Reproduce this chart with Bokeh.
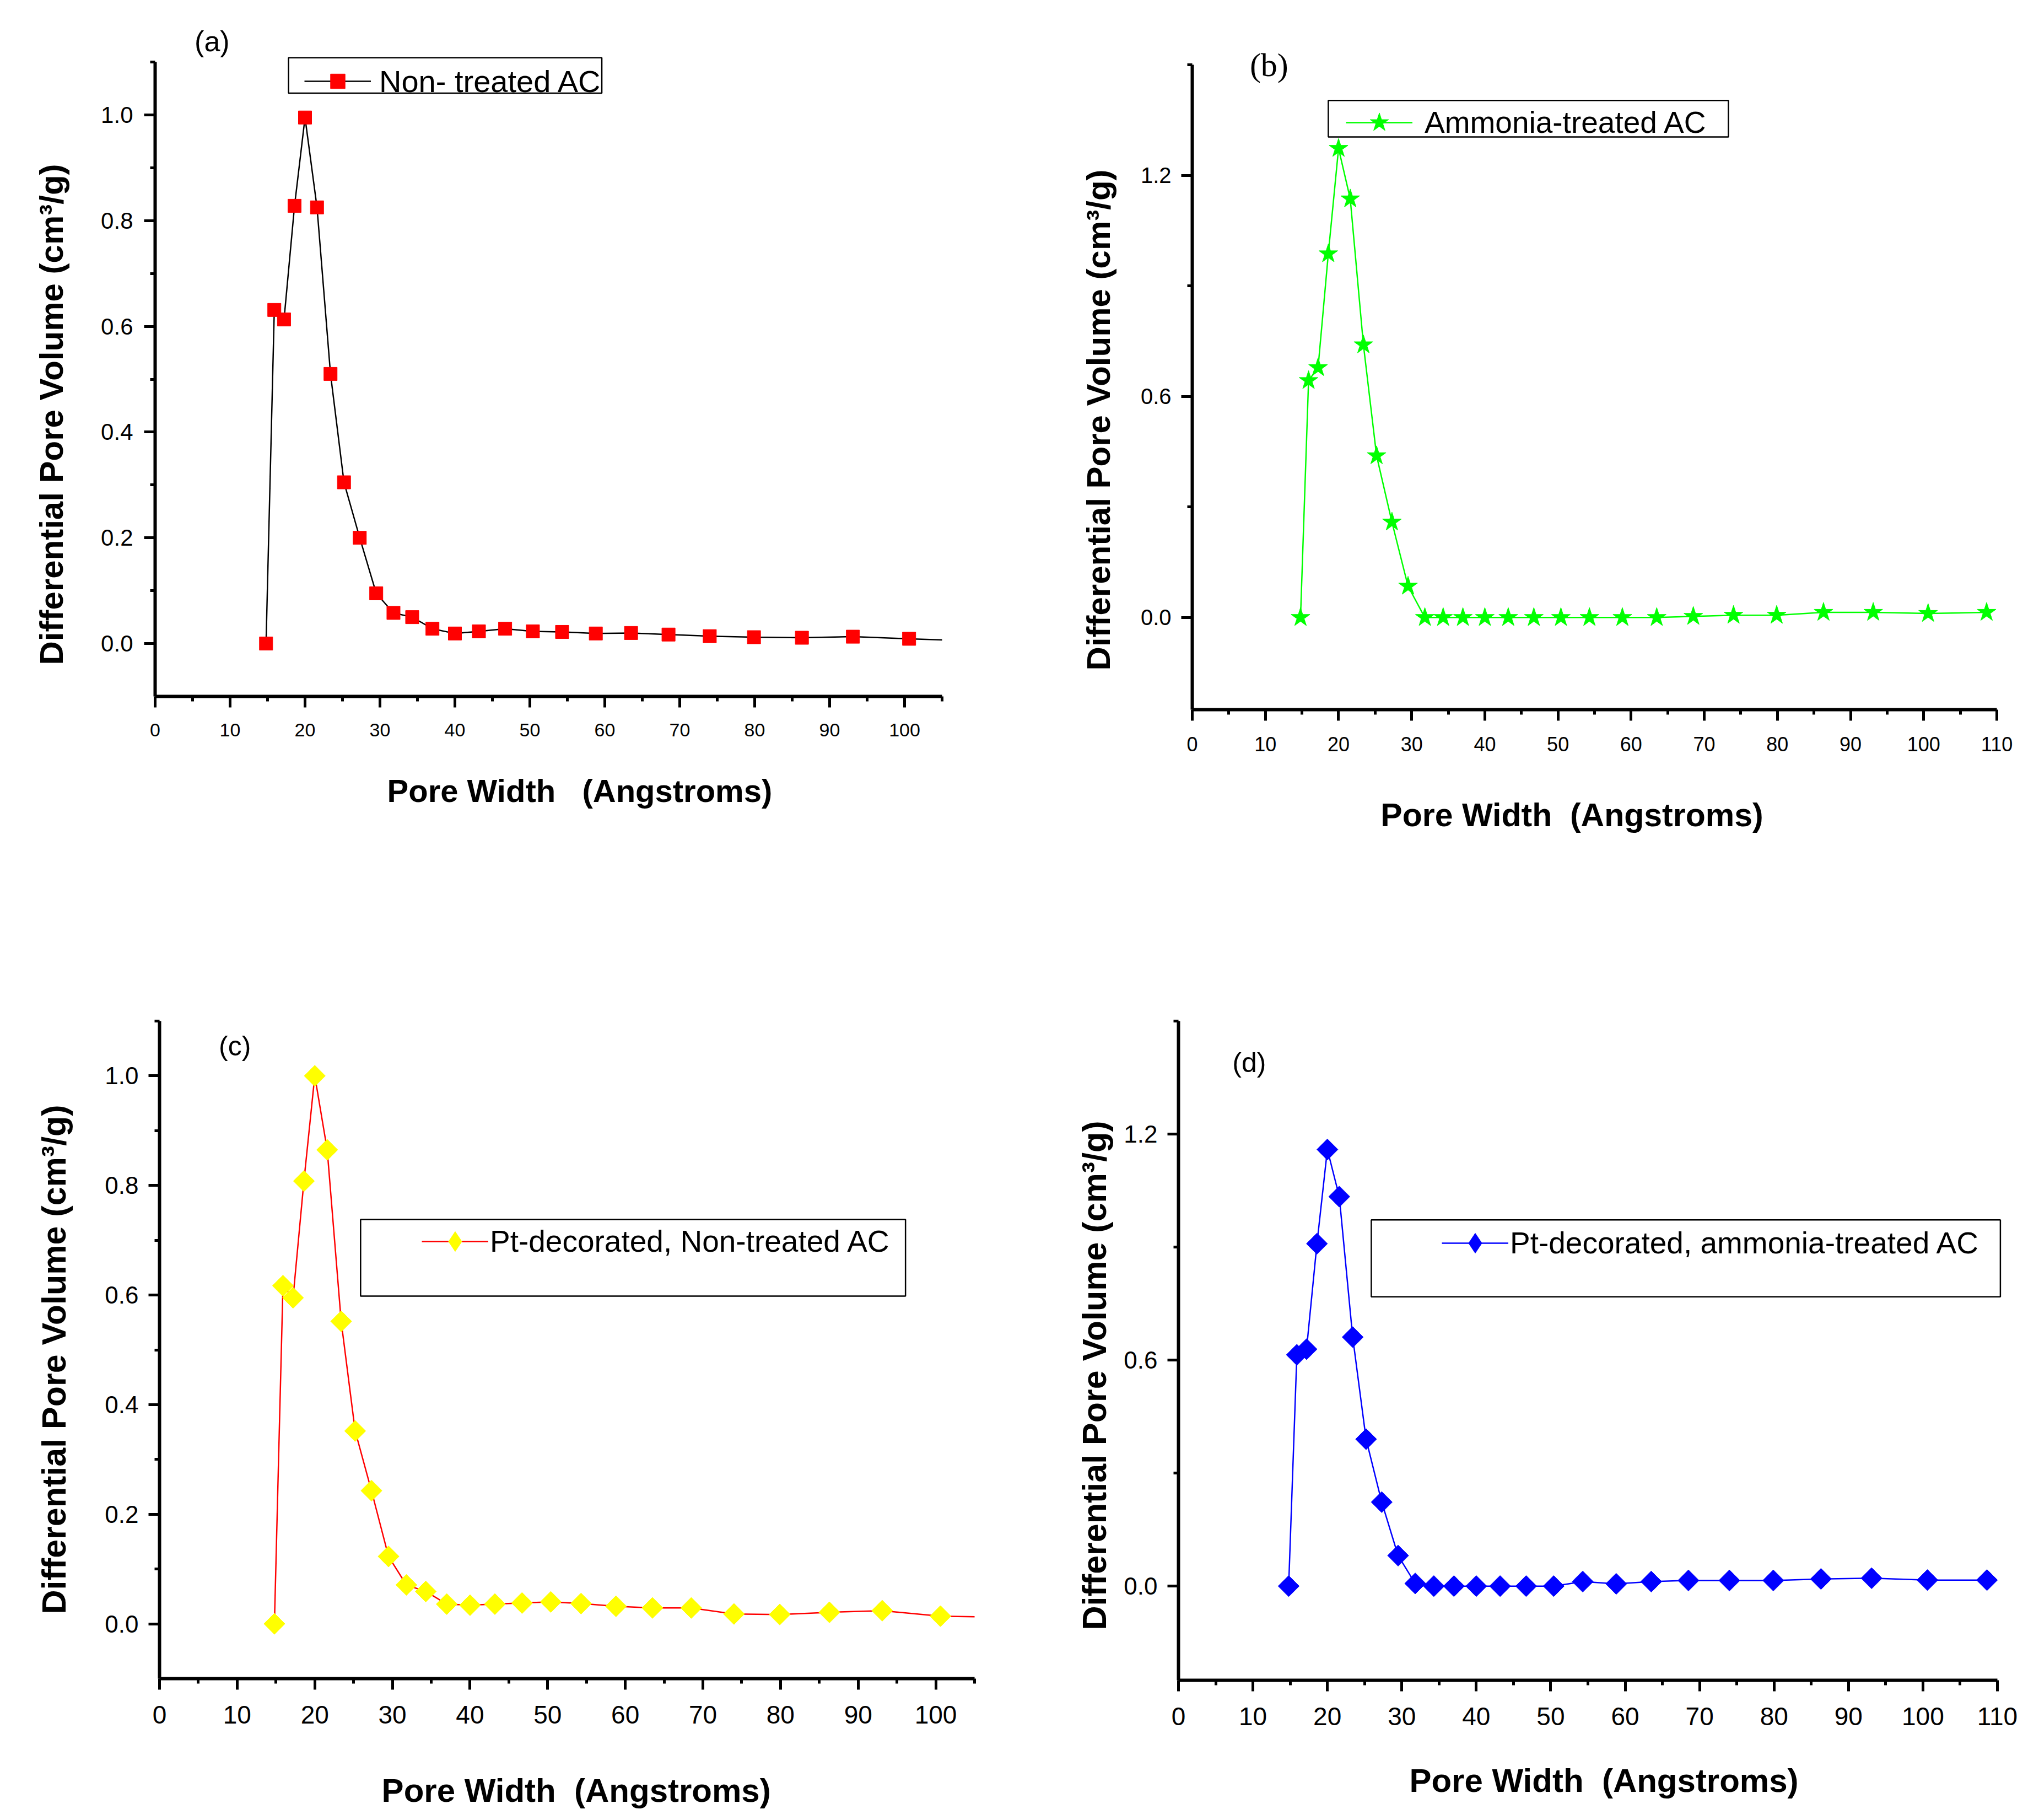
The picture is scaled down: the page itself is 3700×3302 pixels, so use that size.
import numpy as np
from bokeh.plotting import figure
from bokeh.layouts import row, column
from bokeh.models import (Range1d, FixedTicker, PrintfTickFormatter, Legend, LegendItem,
                          BoxAnnotation, Label, Title)
from bokeh.embed import file_html
from bokeh.resources import INLINE

# pore widths (Angstroms), shared by the four samples
pore_width = [14.8, 15.9, 17.2, 18.6, 20.0, 21.6, 23.4, 25.2, 27.3, 29.5, 31.8, 34.3, 37.0,
              40.0, 43.2, 46.7, 50.4, 54.3, 58.8, 63.5, 68.5, 74.0, 79.9, 86.3, 93.1, 100.6, 108.6]

# differential pore volume (cm3/g)
non_treated = [0.000, 0.631, 0.613, 0.828, 0.995, 0.825, 0.510, 0.305, 0.200, 0.095, 0.058, 0.050,
               0.028, 0.019, 0.023, 0.028, 0.023, 0.022, 0.019, 0.020, 0.017, 0.014, 0.012, 0.011,
               0.013, 0.009, 0.005]
ammonia_treated = [0.000, 0.643, 0.678, 0.987, 1.273, 1.136, 0.740, 0.439, 0.259, 0.085, 0.000, 0.000,
                   0.000, 0.000, 0.000, 0.000, 0.000, 0.000, 0.000, 0.000, 0.003, 0.006, 0.006, 0.014,
                   0.014, 0.011, 0.014]
pt_non_treated = [0.000, 0.617, 0.595, 0.808, 1.000, 0.865, 0.552, 0.352, 0.243, 0.123, 0.071, 0.059,
                  0.036, 0.034, 0.036, 0.038, 0.040, 0.037, 0.032, 0.029, 0.029, 0.018, 0.017, 0.021,
                  0.024, 0.014, 0.012]
pt_ammonia_treated = [0.000, 0.614, 0.629, 0.909, 1.159, 1.034, 0.661, 0.390, 0.223, 0.081, 0.007, 0.000,
                      0.000, 0.000, 0.000, 0.000, 0.000, 0.012, 0.006, 0.012, 0.015, 0.015, 0.015, 0.019,
                      0.021, 0.016, 0.016]

legend_labels = ["Non- treated AC", "Ammonia-treated AC",
                 "Pt-decorated, Non-treated AC", "Pt-decorated, ammonia-treated AC"]
panel_letters = ["(a)", "(b)", "(c)", "(d)"]
NB = "\u00a0"
# no-break spaces keep the wide gaps and shift the titles a little off centre, as in the original
x_titles = [NB * 7 + "Pore Width" + NB + " " + NB + "(Angstroms)",
            "Pore Width" + NB + " (Angstroms)" + NB * 5,
            NB * 2 + "Pore Width" + NB + " (Angstroms)",
            NB * 3 + "Pore Width" + NB + " (Angstroms)"]
y_title = "Differential Pore Volume (cm\u00b3/g)"

FONT = "Liberation Sans"
FIG_W, FIG_H = 1842, 1642

# geometry in page pixels: figure origin, axis ends, frame ends
panels = [
    dict(y=non_treated, origin=(8, 8),
         xr=(0, 105), ax_x=(289, 1717), fr_x=(289, 1717),
         yr=(-0.1, 1.1), ax_y=(1271, 120), fr_y=(1271, 50),
         ymajor=[0.0, 0.2, 0.4, 0.6, 0.8, 1.0], yminor=[0.1, 0.3, 0.5, 0.7, 0.9, 1.1],
         line="#000000", fill="#ff0000", marker="square", size=24, angle=0,
         leg_marker=None, gh=66, lfont=56,
         yfont=42, xfont=34, ystd=20, xfont_t=58, yfont_t=60,
         ytitle_start=1214, ytitle_gap=108, xtitle_gap=63,
         leg=(271, 153), lstand=15, box=(17.8, 59.6, 1.041, 1.108),
         letter=(7.6, 1.139, 52, FONT)),
    dict(y=ammonia_treated, origin=(1850, 8),
         xr=(0, 110), ax_x=(2171, 3631), fr_x=(2171, 3631),
         yr=(-0.25, 1.5), ax_y=(1295, 125), fr_y=(1295, 50),
         ymajor=[0.0, 0.6, 1.2], yminor=[0.3, 0.9, 1.5],
         line="#00ff00", fill="#00ff00", marker="star", size=36, angle=0,
         leg_marker=None, gh=88, lfont=55,
         yfont=40, xfont=36, ystd=18, xfont_t=59, yfont_t=60,
         ytitle_start=1224, ytitle_gap=80, xtitle_gap=80,
         leg=(279, 230), lstand=22, box=(18.6, 73.3, 1.304, 1.403),
         letter=(10.5, 1.50, 60, "Liberation Serif")),
    dict(y=pt_non_treated, origin=(8, 1650),
         xr=(0, 105), ax_x=(297, 1776), fr_x=(297, 1776),
         yr=(-0.1, 1.1), ax_y=(3056, 1860), fr_y=(3056, 1860),
         ymajor=[0.0, 0.2, 0.4, 0.6, 0.8, 1.0], yminor=[0.1, 0.3, 0.5, 0.7, 0.9, 1.1],
         line="#ff0000", fill="#ffff00", marker="square", size=27, angle=np.pi / 4,
         leg_marker="diamond", gh=90, lfont=55,
         yfont=44, xfont=46, ystd=18, xfont_t=60, yfont_t=61,
         ytitle_start=2939, ytitle_gap=112, xtitle_gap=85,
         leg=(476, 2263), lstand=3, box=(25.9, 96.1, 0.598, 0.738),
         letter=(9.7, 1.054, 50, FONT)),
    dict(y=pt_ammonia_treated, origin=(1850, 1650),
         xr=(0, 110), ax_x=(2146, 3632), fr_x=(2146, 3640),
         yr=(-0.25, 1.5), ax_y=(3056, 1860), fr_y=(3056, 1860),
         ymajor=[0.0, 0.6, 1.2], yminor=[0.3, 0.9, 1.5],
         line="#0000ff", fill="#0000ff", marker="square", size=27, angle=np.pi / 4,
         leg_marker="diamond", gh=90, lfont=55,
         yfont=44, xfont=46, ystd=18, xfont_t=60, yfont_t=61,
         ytitle_start=2965, ytitle_gap=34, xtitle_gap=64,
         leg=(478, 2263), lstand=3, box=(25.9, 110.4, 0.768, 0.972),
         letter=(9.5, 1.389, 50, FONT)),
]


def data_range(lo, hi, p_lo, p_hi, f_lo, f_hi):
    # map frame pixel ends back to data values, using the axis pixel ends
    scale = (p_hi - p_lo) / (hi - lo)
    return lo + (f_lo - p_lo) / scale, lo + (f_hi - p_lo) / scale


def make_panel(i, s):
    ox, oy = s["origin"]
    fx0, fx1 = s["fr_x"]
    fy_bot, fy_top = s["fr_y"]
    x_start, x_end = data_range(*s["xr"], *s["ax_x"], fx0, fx1)
    y_start, y_end = data_range(*s["yr"], *s["ax_y"], fy_bot, fy_top)

    p = figure(width=FIG_W, height=FIG_H, title=None, toolbar_location=None,
               output_backend="svg", x_range=Range1d(x_start, x_end), y_range=Range1d(y_start, y_end),
               min_border_left=fx0 - ox, min_border_right=ox + FIG_W - fx1,
               min_border_top=fy_top - oy, min_border_bottom=oy + FIG_H - fy_bot)
    p.outline_line_color = None
    p.grid.visible = False

    r_line = p.line(pore_width, s["y"], line_color=s["line"], line_width=2.5)
    r_pts = p.scatter(pore_width, s["y"], marker=s["marker"], size=s["size"], angle=s["angle"],
                      fill_color=s["fill"], line_color=s["fill"])
    leg_renderers = [r_line, r_pts]
    if s["leg_marker"]:
        # hidden copy, only used to draw the diamond in the legend
        r_leg = p.scatter(pore_width, s["y"], marker=s["leg_marker"], fill_color=s["fill"],
                          line_color=s["fill"], visible=False)
        leg_renderers = [r_line, r_leg]

    xmajor = list(range(0, s["xr"][1] + 1, 10))
    xminor = list(range(5, s["xr"][1] + 1, 10))
    p.xaxis.ticker = FixedTicker(ticks=xmajor, minor_ticks=xminor)
    p.yaxis.ticker = FixedTicker(ticks=s["ymajor"], minor_ticks=s["yminor"])
    p.yaxis.formatter = PrintfTickFormatter(format="%.1f")
    p.xaxis.bounds = s["xr"]
    p.yaxis.bounds = s["yr"]

    for ax in (p.xaxis[0], p.yaxis[0]):
        ax.axis_line_width = 6
        ax.axis_line_color = "black"
        ax.major_tick_line_width = 5
        ax.minor_tick_line_width = 5
        ax.major_tick_out = 20
        ax.major_tick_in = 0
        ax.minor_tick_out = 9
        ax.minor_tick_in = 0
        ax.major_label_text_font = FONT
        ax.major_label_text_color = "black"
    p.xaxis.major_label_standoff = 29
    p.yaxis.major_label_standoff = s["ystd"]
    p.xaxis.major_label_text_font_size = "%dpx" % s["xfont"]
    p.yaxis.major_label_text_font_size = "%dpx" % s["yfont"]

    p.xaxis.axis_label = x_titles[i]
    p.xaxis.axis_label_standoff = s["xtitle_gap"]
    p.xaxis.axis_label_text_font = FONT
    p.xaxis.axis_label_text_font_style = "bold"
    p.xaxis.axis_label_text_font_size = "%dpx" % s["xfont_t"]
    p.xaxis.axis_label_text_color = "black"

    # y title as a side title, so it can start where the original starts
    p.add_layout(Title(text=y_title, align="left", vertical_align="bottom",
                       offset=fy_bot - s["ytitle_start"], standoff=s["ytitle_gap"],
                       text_font=FONT, text_font_size="%dpx" % s["yfont_t"],
                       text_font_style="bold", text_color="black"), "left")

    x0, x1, y0, y1 = s["box"]
    p.add_layout(BoxAnnotation(left=x0, right=x1, bottom=y0, top=y1, fill_alpha=0,
                               line_color="black", line_alpha=1.0, line_width=2.5,
                               level="annotation"))

    row_h = max(s["gh"], 70)
    lx, lcenter = s["leg"]
    legend = Legend(items=[LegendItem(label=legend_labels[i], renderers=leg_renderers)],
                    location=(lx, fy_bot - (lcenter + row_h / 2)), padding=0, margin=0, spacing=0,
                    border_line_color=None, background_fill_alpha=0,
                    glyph_width=121, glyph_height=s["gh"], label_height=s["gh"],
                    label_standoff=s["lstand"], label_text_font=FONT,
                    label_text_font_size="%dpx" % s["lfont"], label_text_color="black")
    p.add_layout(legend)

    tx, ty, tsize, tfont = s["letter"]
    p.add_layout(Label(x=tx, y=ty, text=panel_letters[i], text_font=tfont,
                       text_font_size="%dpx" % tsize, text_align="center",
                       text_baseline="middle", text_color="black"))
    return p


figs = [make_panel(i, s) for i, s in enumerate(panels)]
# each figure in its own column, so the frames of a row are not forced to line up
layout = column(row(column(figs[0]), column(figs[1])),
                row(column(figs[2]), column(figs[3])))

open("out.html", "w").write(file_html(layout, INLINE))
